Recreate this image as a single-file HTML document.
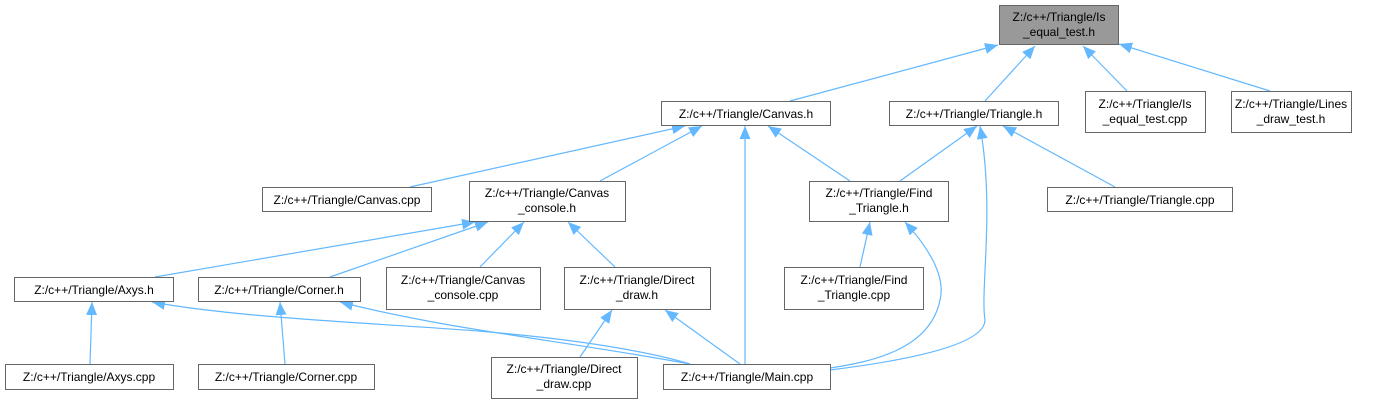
<!DOCTYPE html>
<html><head><meta charset="utf-8"><style>
html,body{margin:0;padding:0;background:#fff;width:1380px;height:403px;overflow:hidden}
svg text{font-family:"Liberation Sans",Arial,sans-serif;font-size:12px;fill:#000}
</style></head><body>
<svg width="1380" height="403" xmlns="http://www.w3.org/2000/svg">
<defs><marker id="a" markerWidth="14" markerHeight="12" refX="13" refY="5.5" orient="auto-start-reverse" markerUnits="userSpaceOnUse"><path d="M0,0 L13,5.5 L0,11 Z" fill="#63b8ff"/></marker></defs>
<g fill="none" stroke="#63b8ff" stroke-width="1.2" marker-start="url(#a)">
<path d="M998,45 L790,101"/>
<path d="M1035,46 L985,101"/>
<path d="M1083,46 L1127,91"/>
<path d="M1119,44 L1270,91"/>
<path d="M685,126 L410,187"/>
<path d="M702,126 L600,181"/>
<path d="M745,126 L745,364"/>
<path d="M768,126 L850,181"/>
<path d="M977,126 L900,181"/>
<path d="M980,126 C995,210 980,290 985,320 C985,350 870,365 830,370"/>
<path d="M1003,126 L1115,187"/>
<path d="M475,222 L155,277"/>
<path d="M488,222 L330,277"/>
<path d="M524,222 L480,267"/>
<path d="M568,222 L615,267"/>
<path d="M870,222 L860,267"/>
<path d="M905,222 C935,255 945,280 940,300 C930,350 870,362 830,368"/>
<path d="M92,302 L90,364"/>
<path d="M280,302 L285,364"/>
<path d="M152,302 C250,320 420,325 500,333 C600,342 660,355 690,364"/>
<path d="M340,302 C450,330 560,340 690,364"/>
<path d="M612,310 L580,357"/>
<path d="M665,310 L740,364"/>
</g>
<g stroke="#666" stroke-width="1" fill="#fff">
<rect x="999.5" y="5.5" width="119" height="39" fill="#999"/>
<rect x="661.5" y="101.5" width="169" height="24"/>
<rect x="889.5" y="101.5" width="169" height="24"/>
<rect x="1085.5" y="91.5" width="120" height="41"/>
<rect x="1231.5" y="91.5" width="120" height="41"/>
<rect x="262.5" y="187.5" width="169" height="24"/>
<rect x="469.5" y="181.5" width="156" height="40"/>
<rect x="809.5" y="181.5" width="139" height="40"/>
<rect x="1047.5" y="187.5" width="185" height="24"/>
<rect x="14.5" y="277.5" width="159" height="24"/>
<rect x="198.5" y="277.5" width="162" height="24"/>
<rect x="386.5" y="267.5" width="154" height="42"/>
<rect x="564.5" y="267.5" width="146" height="42"/>
<rect x="784.5" y="267.5" width="139" height="42"/>
<rect x="5.5" y="364.5" width="168" height="25"/>
<rect x="198.5" y="364.5" width="176" height="25"/>
<rect x="491.5" y="357.5" width="146" height="41"/>
<rect x="663.5" y="364.5" width="167" height="25"/>
</g>
<g text-anchor="middle">
<text x="1059" y="21">Z:/c++/Triangle/Is</text><text x="1059" y="36">_equal_test.h</text>
<text x="746" y="118">Z:/c++/Triangle/Canvas.h</text>
<text x="974" y="118">Z:/c++/Triangle/Triangle.h</text>
<text x="1145" y="108">Z:/c++/Triangle/Is</text><text x="1145" y="123">_equal_test.cpp</text>
<text x="1291" y="108">Z:/c++/Triangle/Lines</text><text x="1291" y="123">_draw_test.h</text>
<text x="347" y="204">Z:/c++/Triangle/Canvas.cpp</text>
<text x="547" y="197">Z:/c++/Triangle/Canvas</text><text x="547" y="212">_console.h</text>
<text x="879" y="197">Z:/c++/Triangle/Find</text><text x="879" y="212">_Triangle.h</text>
<text x="1140" y="204">Z:/c++/Triangle/Triangle.cpp</text>
<text x="94" y="294">Z:/c++/Triangle/Axys.h</text>
<text x="279" y="294">Z:/c++/Triangle/Corner.h</text>
<text x="463" y="284">Z:/c++/Triangle/Canvas</text><text x="463" y="299">_console.cpp</text>
<text x="637" y="284">Z:/c++/Triangle/Direct</text><text x="637" y="299">_draw.h</text>
<text x="854" y="284">Z:/c++/Triangle/Find</text><text x="854" y="299">_Triangle.cpp</text>
<text x="89" y="381">Z:/c++/Triangle/Axys.cpp</text>
<text x="286" y="381">Z:/c++/Triangle/Corner.cpp</text>
<text x="564" y="373">Z:/c++/Triangle/Direct</text><text x="564" y="388">_draw.cpp</text>
<text x="747" y="381">Z:/c++/Triangle/Main.cpp</text>
</g>
</svg>
</body></html>
